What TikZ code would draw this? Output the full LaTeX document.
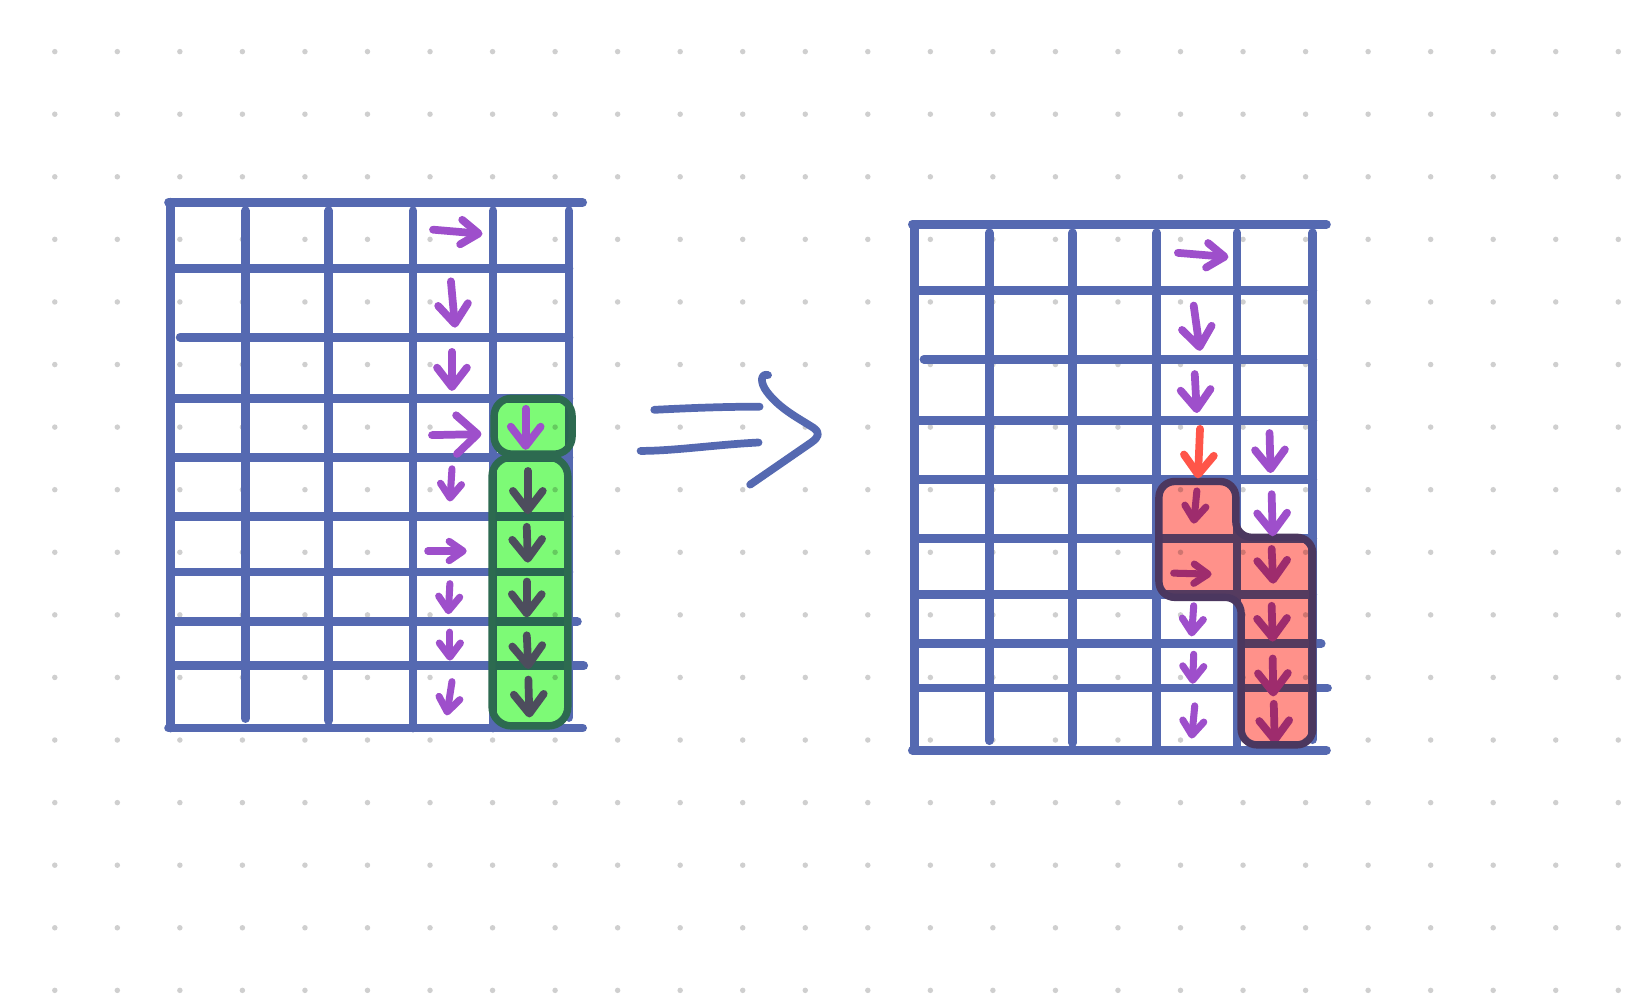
\documentclass[tikz,border=0pt]{standalone}
\usetikzlibrary{arrows.meta}
\definecolor{inkblue}{HTML}{5569B1}
\definecolor{inkpurple}{HTML}{9E4FCB}
\definecolor{inkred}{HTML}{FF5549}
\definecolor{dotgray}{HTML}{CFCFCF}
\definecolor{markgreen}{HTML}{7DFA76}
\definecolor{markgreenrim}{HTML}{2D6A50}
\definecolor{markred}{HTML}{FF918A}
\definecolor{markredrim}{HTML}{4B375F}

\tikzset{
  gridsheet/.pic={
    % outer frame
    \draw[gridline] (-2,0) -- (391,0);
    \draw[gridline] (-2,499) -- (391,499);
    \draw[gridline] (0,0) -- (0,499);
    % inner columns
    \foreach \cx/\cend in {71/490, 150/492, 230/499, 306/499, 378/489}
      \draw[gridline] (\cx,8) -- (\cx,\cend);
    % inner rows
    \foreach \ry/\rs/\re in {63/3/378, 128/9/378, 186/3/378, 242/3/378, 298/3/378, 351/3/378, 398/3/386, 440/3/392}
      \draw[gridline] (\rs,\ry) -- (\re,\ry);
  }
}

\begin{document}
\begin{tikzpicture}[
    x=0.010536cm, y=-0.010536cm,
    gridline/.style={line width=2.5pt, line cap=round, draw=inkblue},
    sweep/.style={line width=2.2pt, line cap=round, line join=round, draw=inkblue},
    flowbig/.style={line width=2.2pt, line cap=round, draw=inkpurple,
                    -{Straight Barb[round, length=5.5pt, width=8.5pt]}},
    flowsmall/.style={flowbig, line width=2pt, -{Straight Barb[round, length=4pt, width=6pt]}},
    flowright/.style={flowbig, -{Straight Barb[round, length=5pt, width=7pt]}},
    markrim/.style={line width=2.1pt, line join=round},
]

\fill[white] (0,0) rectangle (1568,949);
\useasboundingbox (0,0) rectangle (1568,949);

% dotted paper
\foreach \i in {0,...,25}
  \foreach \j in {0,...,15}
    \fill[dotgray] (52+59.36*\i, 49+59.4*\j) circle[radius=2.6];

% the two tables
\pic at (162,192) {gridsheet};
\pic at (868,213) {gridsheet};

% strokes that sit below the marker
\foreach \a/\b/\c/\d in {501/447/501/488, 500/500/501/534, 500/552/500/586, 500/603/501.5/635, 501.5/645/502.5/681,
                         1207/521/1208.5/554, 1207/575/1208/609, 1208/625/1208.5/661, 1209/668/1210/706}
  \draw[flowbig] (\a,\b) -- (\c,\d);
\draw[flowsmall] (1136,466) -- (1133,497);
\draw[flowsmall, -{Straight Barb[round, length=4pt, width=5.5pt]}] (1114,544) -- (1150,545);

% marker: green column (left), red block (right)
\begin{scope}[blend mode=multiply]
  \fill[markgreen, rounded corners=5pt] (469,378) rectangle (543,431);
  \fill[markgreen, rounded corners=5.5pt] (467,434) rectangle (539,689);
  \fill[markred, rounded corners=4.5pt] (1100,457) -- (1173,457) -- (1173,510) -- (1246,510)
    -- (1246,707) -- (1178,707) -- (1178,567) -- (1100,567) -- cycle;
\end{scope}
\draw[markrim, draw=markgreenrim, rounded corners=5pt] (469,378) rectangle (543,431);
\draw[markrim, draw=markgreenrim, rounded corners=5.5pt] (467,434) rectangle (539,689);
\draw[markrim, draw=markredrim, rounded corners=4.5pt] (1100,457) -- (1173,457) -- (1173,510) -- (1246,510)
    -- (1246,707) -- (1178,707) -- (1178,567) -- (1100,567) -- cycle;

% left table: walk down column 4
\draw[flowright] (411,218) -- (458,222);
\draw[flowbig] (428,267) -- (432,311);
\draw[flowbig] (429,334) -- (429,371);
\draw[flowbig, -{Straight Barb[round, length=6pt, width=11pt]}] (410,413) -- (457,412);
\draw[flowbig] (499,388) -- (499,427);
\draw[flowsmall, -{Straight Barb[round, length=4pt, width=5.5pt]}] (406,523) -- (443,523);
\foreach \a/\b/\c/\d in {429/445/427/476, 427/554/425.5/583, 427/600/427/627, 429/647/424/679}
  \draw[flowsmall] (\a,\b) -- (\c,\d);

% right table: walk down column 4, then column 5
\draw[flowright] (1118,240) -- (1166,244);
\draw[flowbig] (1133,290) -- (1139,333);
\draw[flowbig] (1134,355) -- (1136,392);
\draw[flowbig, draw=inkred] (1139,407) -- (1137,454);
\draw[flowbig] (1205,411) -- (1206,449);
\draw[flowbig] (1207,469) -- (1208,509);
\foreach \a/\b/\c/\d in {1133/575/1131/604, 1133/621/1132/649, 1134/670/1131/701}
  \draw[flowsmall] (\a,\b) -- (\c,\d);

% the big "implies" arrow between the tables
\draw[sweep] (621,389) .. controls (660,387) and (690,386) .. (721,386);
\draw[sweep] (608,428) .. controls (640,428) and (680,422) .. (720,420);
\draw[sweep] (729,356) .. controls (722,354) and (721,363) .. (728,372)
  .. controls (740,388) and (758,397) .. (772,406)
  .. controls (779,411) and (777,415) .. (770,420) -- (712,460);

\end{tikzpicture}
\end{document}
